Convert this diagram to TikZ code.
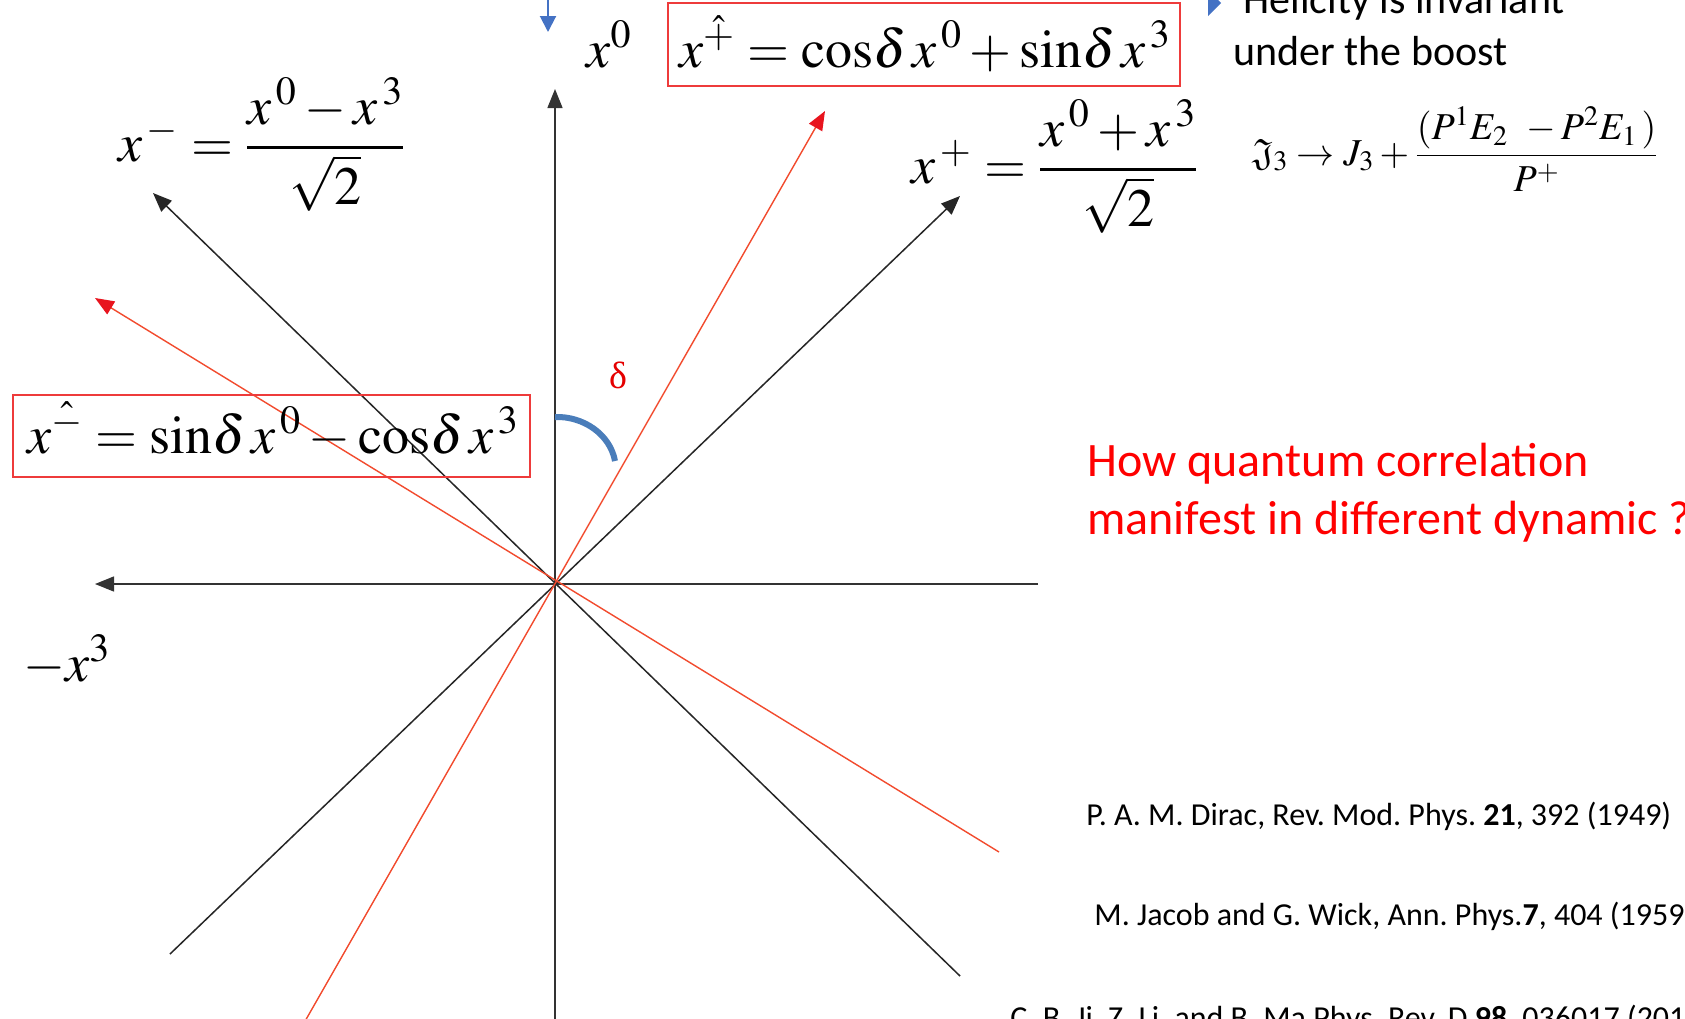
\documentclass[tikz,border=0pt]{standalone}
\usepackage{amsmath}
\usepackage{mathptmx}
\usepackage{amssymb}
\usepackage[no-math]{fontspec}
\setmainfont{Liberation Serif}
\newfontfamily\calib{Carlito}
\usetikzlibrary{arrows.meta}
\definecolor{boxred}{HTML}{EE3B3B}
\definecolor{lred}{HTML}{F24B2E}
\definecolor{tipred}{HTML}{E8141E}
\definecolor{arcblue}{HTML}{4A7DBA}
\definecolor{ablue}{HTML}{4472C4}
\frenchspacing
\newcommand{\sgap}{\mkern2mu}
\begin{document}
\begin{tikzpicture}[x=0.5pt,y=-0.5pt,
  tip/.style={-{Triangle[length=9.5pt,width=7.5pt]}},
  axisline/.style={line width=0.7pt,draw=black!80,tip},
  diagline/.style={line width=0.75pt,draw=black!85,tip},
  redline/.style={line width=0.7pt,draw=lred,-{Triangle[length=9.5pt,width=7.5pt,color=tipred]}},
  redbox/.style={draw=boxred,line width=0.7pt,inner sep=0pt},
  lbl/.style={inner sep=0pt,anchor=base west},
  fml/.style={font=\fontsize{27}{32}\selectfont},
  cal/.style={font=\calib\fontsize{21}{25}\selectfont, inner sep=0pt, anchor=base west},
]
\useasboundingbox (0,0) rectangle (1685,1018);
\clip (0,0) rectangle (1685,1018);
\fill[white] (0,0) rectangle (1685,1018);

% coordinates
\coordinate (O) at (555,584);
\coordinate (Vb) at (555,1030);
\coordinate (Vt) at (555,89);
\coordinate (Hr) at (1038,584);
\coordinate (Hl) at (95,584);
\coordinate (Pb) at (170,954);
\coordinate (Pt) at (960,196);
\coordinate (Mb) at (960,976);
\coordinate (Mt) at (153,193);
\coordinate (PHb) at (300,1030);
\coordinate (PHt) at (825,111);
\coordinate (MHb) at (999,852);
\coordinate (MHt) at (95,298);

% axes and lines
\draw[axisline] (Vb) -- (Vt);
\draw[axisline] (Hr) -- (Hl);
\draw[diagline] (Pb) -- (Pt);
\draw[diagline] (Mb) -- (Mt);
\draw[redline] (PHb) -- (PHt);
\draw[redline] (MHb) -- (MHt);

% blue arc
\coordinate (a1) at (555,417);
\coordinate (a2) at (615,461);
\draw[arcblue,line width=3pt] (a1) .. controls (583,416) and (610,434) .. (a2);

% blue arrow and bullet at top
\coordinate (ba0) at (548,-5);
\coordinate (ba1) at (548,32);
\draw[ablue,line width=1pt,-{Triangle[length=8pt,width=8pt]}] (ba0) -- (ba1);
\fill[ablue] (1208,-10) -- (1221,3) -- (1208,16) -- cycle;

% formulas
\node[lbl,fml] (xm) at (118,161) {$x^{\sgap-} = \dfrac{x^{\sgap0}-x^{\sgap3}}{\sqrt{2}}$};
\node[lbl,fml] (xp) at (911,183) {$x^{\sgap+} = \dfrac{x^{\sgap0}+x^{\sgap3}}{\sqrt{2}}$};
\node[lbl,fml] (x0) at (586,67) {$x^{0}$};
\node[lbl,fml] (mx3) at (23,681) {$-x^{3}$};
\node[redbox,minimum width=256pt,minimum height=41.5pt] (b1) at (924,44.5) {};
\node[fml,inner sep=0pt,anchor=base] (f1) at (925,67) {$x^{\hat{+}} = \mathrm{cos}\delta\, x^{\sgap0} + \mathrm{sin}\delta\, x^{\sgap3}$};
\node[redbox,minimum width=258.5pt,minimum height=41pt] (b2) at (271.5,436) {};
\node[fml,inner sep=0pt,anchor=base] (f2) at (273,453) {$x^{\hat{-}} = \mathrm{sin}\delta\, x^{\sgap0} - \mathrm{cos}\delta\, x^{\sgap3}$};
\node[lbl,text=red!90!black,font=\fontsize{19}{22}\selectfont] (dl) at (609,388) {δ};

% right side
\node[cal] (h1) at (1243,13) {Helicity is invariant};
\node[cal] (h2) at (1233,65) {under the boost};
\node[lbl,font=\fontsize{19}{23}\selectfont] (jf) at (1252,165) {$\mathfrak{J}_3 \rightarrow J_3 + \dfrac{(P^1E_2\;\,-P^2E_1\,)}{P^+}$};
\node[cal,text=red,font=\calib\fontsize{24}{29}\selectfont] (q1) at (1087,476) {How quantum correlation};
\node[cal,text=red,font=\calib\fontsize{24}{29}\selectfont] (q2) at (1087,534) {manifest in different dynamic ?};

% references
\node[cal,font=\calib\fontsize{16}{19}\selectfont] (r1) at (1086,825) {P. A. M. Dirac, Rev. Mod. Phys. \textbf{21}, 392 (1949)};
\node[cal,font=\calib\fontsize{16}{19}\selectfont] (r2) at (1094,925) {M. Jacob and G. Wick, Ann. Phys.\textbf{7}, 404 (1959)};
\node[cal,font=\calib\fontsize{16}{19}\selectfont] (r3) at (1010,1028) {C. B. Ji, Z. Li, and B. Ma Phys. Rev. D \textbf{98}, 036017 (2018)};
\end{tikzpicture}
\end{document}
